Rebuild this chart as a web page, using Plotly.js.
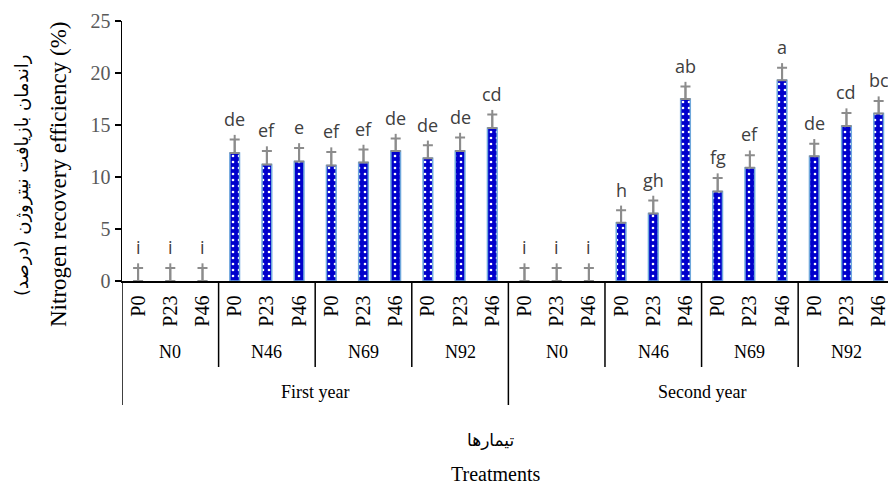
<!DOCTYPE html>
<html>
<head>
<meta charset="utf-8">
<script src="https://cdn.plot.ly/plotly-3.0.1.min.js"></script>
<style>html,body{margin:0;padding:0;background:#fff;}#chart{width:888px;height:486px;}</style>
</head>
<body>
<div id="chart"></div>
<script>
// ---- data ----
const years = ['First year', 'Second year'];
const nLevels = ['N0', 'N46', 'N69', 'N92'];
const pLevels = ['P0', 'P23', 'P46'];
const values = [0, 0, 0, 12.3, 11.2, 11.5, 11.1, 11.4, 12.5, 11.8, 12.5, 14.7,
                0, 0, 0, 5.6, 6.5, 17.5, 8.6, 10.9, 19.3, 12.0, 14.9, 16.1];
const errors = [1.25, 1.25, 1.25, 1.3, 1.3, 1.3, 1.3, 1.25, 1.2, 1.25, 1.3, 1.3,
                1.25, 1.25, 1.25, 1.2, 1.25, 1.2, 1.3, 1.2, 1.2, 1.2, 1.25, 1.2];
const letters = ['i', 'i', 'i', 'de', 'ef', 'e', 'ef', 'ef', 'de', 'de', 'de', 'cd',
                 'i', 'i', 'i', 'h', 'gh', 'ab', 'fg', 'ef', 'a', 'de', 'cd', 'bc'];
const yTicks = [0, 5, 10, 15, 20, 25];

// ---- build categories ----
const xIdx = [], pText = [];
years.forEach((y, yi) => nLevels.forEach((n, ni) => pLevels.forEach((p, pi) => {
  xIdx.push(xIdx.length); pText.push(p);
})));
const lineExt = 0.45;
const errLine = errors.map(e => e + lineExt);

const serif = 'Liberation Serif, Times New Roman, serif';
const errColor = '#8c8c8c';

const traces = [
  {
    type: 'bar', x: xIdx, y: values, width: 0.3,
    marker: {
      color: '#0000cc',
      line: {color: '#6fa8dc', width: 1.5},
      pattern: {shape: '.', fgcolor: '#ffffff', bgcolor: '#0000cc', size: 6, solidity: 0.15}
    },
    error_y: {type: 'data', array: errors, visible: true, color: errColor, thickness: 2, width: 5, symmetric: false, arrayminus: errors.map(() => 0)},
    hoverinfo: 'skip', showlegend: false
  },
  {
    type: 'scatter', mode: 'markers', x: xIdx, y: values,
    marker: {size: 1, color: 'rgba(0,0,0,0)'},
    error_y: {type: 'data', array: errLine, visible: true, color: errColor, thickness: 2, width: 0, symmetric: false, arrayminus: errors.map(() => 0)},
    hoverinfo: 'skip', showlegend: false
  }
];

const annotations = [];
// significance letters
xIdx.forEach((x, i) => {
  annotations.push({
    x: x, y: values[i] + errLine[i], xref: 'x', yref: 'y', text: letters[i],
    showarrow: false, yanchor: 'bottom', yshift: 2,
    font: {family: 'Open Sans, Noto Sans, sans-serif', size: 18, color: '#404040'}
  });
});
// N level labels & year labels
const shapes = [];
const nP = pLevels.length;
years.forEach((y, yi) => {
  nLevels.forEach((n, ni) => {
    const start = (yi * nLevels.length + ni) * nP;
    annotations.push({
      x: start + (nP - 1) / 2, y: 0, xref: 'x', yref: 'paper', yanchor: 'middle', yshift: -71,
      text: n, showarrow: false, font: {family: serif, size: 18, color: '#000'}
    });
    if (ni > 0) {
      shapes.push({type: 'line', xref: 'x', yref: 'paper', x0: start - 0.5, x1: start - 0.5,
        y0: 0, y1: -86 / 260, line: {color: '#000', width: 1.5}});
    }
  });
  const ys = yi * nLevels.length * nP;
  annotations.push({
    x: ys + (nLevels.length * nP - 1) / 2, y: 0, xref: 'x', yref: 'paper', yanchor: 'middle', yshift: -111,
    text: y, showarrow: false, font: {family: serif, size: 18, color: '#000'}
  });
  shapes.push({type: 'line', xref: 'x', yref: 'paper', x0: ys - 0.5, x1: ys - 0.5,
    y0: 0, y1: -124 / 260, line: {color: '#000', width: 1.5}});
});
// axis titles
annotations.push({
  x: 0, y: 0.5, xref: 'paper', yref: 'paper', xanchor: 'center', yanchor: 'middle',
  xshift: -64, yshift: -24, textangle: -90,
  text: 'Nitrogen recovery efficiency (%)', showarrow: false,
  font: {family: serif, size: 23, color: '#000'}
});
annotations.push({
  x: 0, y: 0.5, xref: 'paper', yref: 'paper', xanchor: 'center', yanchor: 'middle',
  xshift: -100, yshift: -24, textangle: -90,
  text: 'راندمان بازیافت نیتروژن (درصد)', showarrow: false,
  font: {family: 'DejaVu Sans, sans-serif', size: 18, color: '#000'}
});
annotations.push({
  x: 0.5, y: 0, xref: 'paper', yref: 'paper', xanchor: 'center', yanchor: 'middle',
  yshift: -159, xshift: -15,
  text: 'تیمارها', showarrow: false, font: {family: 'DejaVu Sans, sans-serif', size: 17, color: '#000'}
});
annotations.push({
  x: 0.5, y: 0, xref: 'paper', yref: 'paper', xanchor: 'center', yanchor: 'middle',
  yshift: -193, xshift: -10,
  text: 'Treatments', showarrow: false, font: {family: serif, size: 20, color: '#000'}
});

const layout = {
  width: 888, height: 486,
  margin: {l: 122, r: 0, t: 21, b: 205},
  paper_bgcolor: '#fff', plot_bgcolor: '#fff',
  showlegend: false,
  xaxis: {
    range: [-0.5, 23.29], tickmode: 'array', tickvals: xIdx, ticktext: pText,
    tickangle: -90, ticks: '', showgrid: false, zeroline: false, ticklabelstandoff: 5,
    showline: true, linecolor: '#000', linewidth: 1.5, ticklabeloverflow: 'allow',
    tickfont: {family: serif, size: 20, color: '#000'}, fixedrange: true
  },
  yaxis: {
    range: [0, 25], tickmode: 'array', tickvals: yTicks, ticks: 'outside', ticklen: 6,
    tickcolor: '#000', tickwidth: 1.5, showgrid: false, zeroline: false,
    showline: true, linecolor: '#000', linewidth: 1.5,
    tickfont: {family: serif, size: 20, color: '#595959'}, fixedrange: true
  },
  annotations: annotations,
  shapes: shapes,
  bargap: 0.7
};

Plotly.newPlot('chart', traces, layout, {staticPlot: true});
</script>
</body>
</html>
